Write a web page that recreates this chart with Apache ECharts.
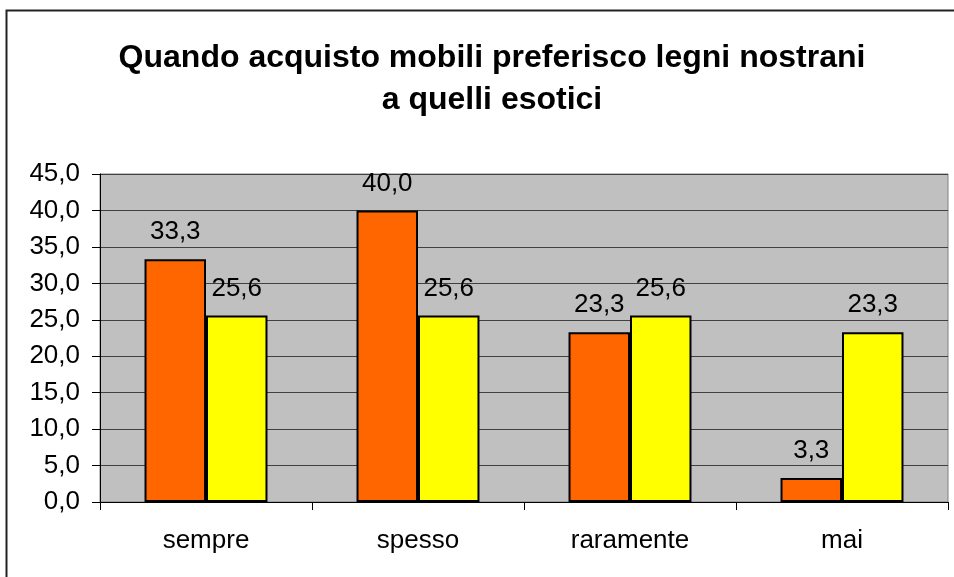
<!DOCTYPE html>
<html>
<head>
<meta charset="utf-8">
<script src="https://cdn.jsdelivr.net/npm/echarts@6/dist/echarts.min.js"></script>
<style>
html, body { margin: 0; padding: 0; background: #fff; }
#chart { width: 954px; height: 577px; }
</style>
</head>
<body>
<div id="chart"></div>
<script>
var categories = ['sempre', 'spesso', 'raramente', 'mai'];
var serieA = [33.3, 40.0, 23.3, 3.3];
var serieB = [25.6, 25.6, 25.6, 23.3];

function fmt(v) {
	return Number(v).toFixed(1).replace('.', ',');
}

var chart = echarts.init(document.getElementById('chart'));

var labelStyle = {
	show: true,
	position: 'top',
	distance: 14,
	color: '#000',
	fontFamily: 'Liberation Sans',
	fontSize: 26,
	formatter: function (p) { return fmt(p.value); }
};

var option = {
	backgroundColor: '#fff',
	animation: false,
	title: {
		text: 'Quando acquisto mobili preferisco legni nostrani\na quelli esotici',
		left: 487,
		top: 32,
		textAlign: 'center',
		textStyle: {
			fontFamily: 'Liberation Sans',
			fontWeight: 'bold',
			fontSize: 32,
			lineHeight: 42,
			color: '#000'
		}
	},
	graphic: [{
		type: 'rect',
		shape: { x: 6.5, y: 10.5, width: 960, height: 580 },
		style: { fill: 'none', stroke: '#222', lineWidth: 2 },
		silent: true
	}],
	grid: {
		left: 100,
		top: 174,
		right: 6,
		bottom: 75,
		show: true,
		backgroundColor: '#c0c0c0',
		borderColor: '#808080',
		borderWidth: 1
	},
	xAxis: {
		type: 'category',
		data: categories,
		axisLine: { show: true, lineStyle: { color: '#000', width: 1 } },
		axisTick: { show: true, length: 8, lineStyle: { color: '#000' } },
		axisLabel: {
			color: '#000',
			fontFamily: 'Liberation Sans',
			fontSize: 26,
			margin: 26
		}
	},
	yAxis: {
		type: 'value',
		min: 0,
		max: 45,
		interval: 5,
		axisLine: { show: true, lineStyle: { color: '#000', width: 1 } },
		axisTick: { show: true, length: 8, lineStyle: { color: '#000' } },
		splitLine: { show: true, lineStyle: { color: '#404040', width: 1 } },
		axisLabel: {
			color: '#000',
			fontFamily: 'Liberation Sans',
			fontSize: 26,
			margin: 20,
			formatter: function (v) { return fmt(v); }
		}
	},
	series: [{
		type: 'bar',
		data: serieA,
		barGap: '0%',
		barCategoryGap: '42%',
		itemStyle: { color: '#ff6600', borderColor: '#000', borderWidth: 2 },
		label: labelStyle
	}, {
		type: 'bar',
		data: serieB,
		itemStyle: { color: '#ffff00', borderColor: '#000', borderWidth: 2 },
		label: labelStyle
	}]
};

chart.setOption(option);
</script>
</body>
</html>
